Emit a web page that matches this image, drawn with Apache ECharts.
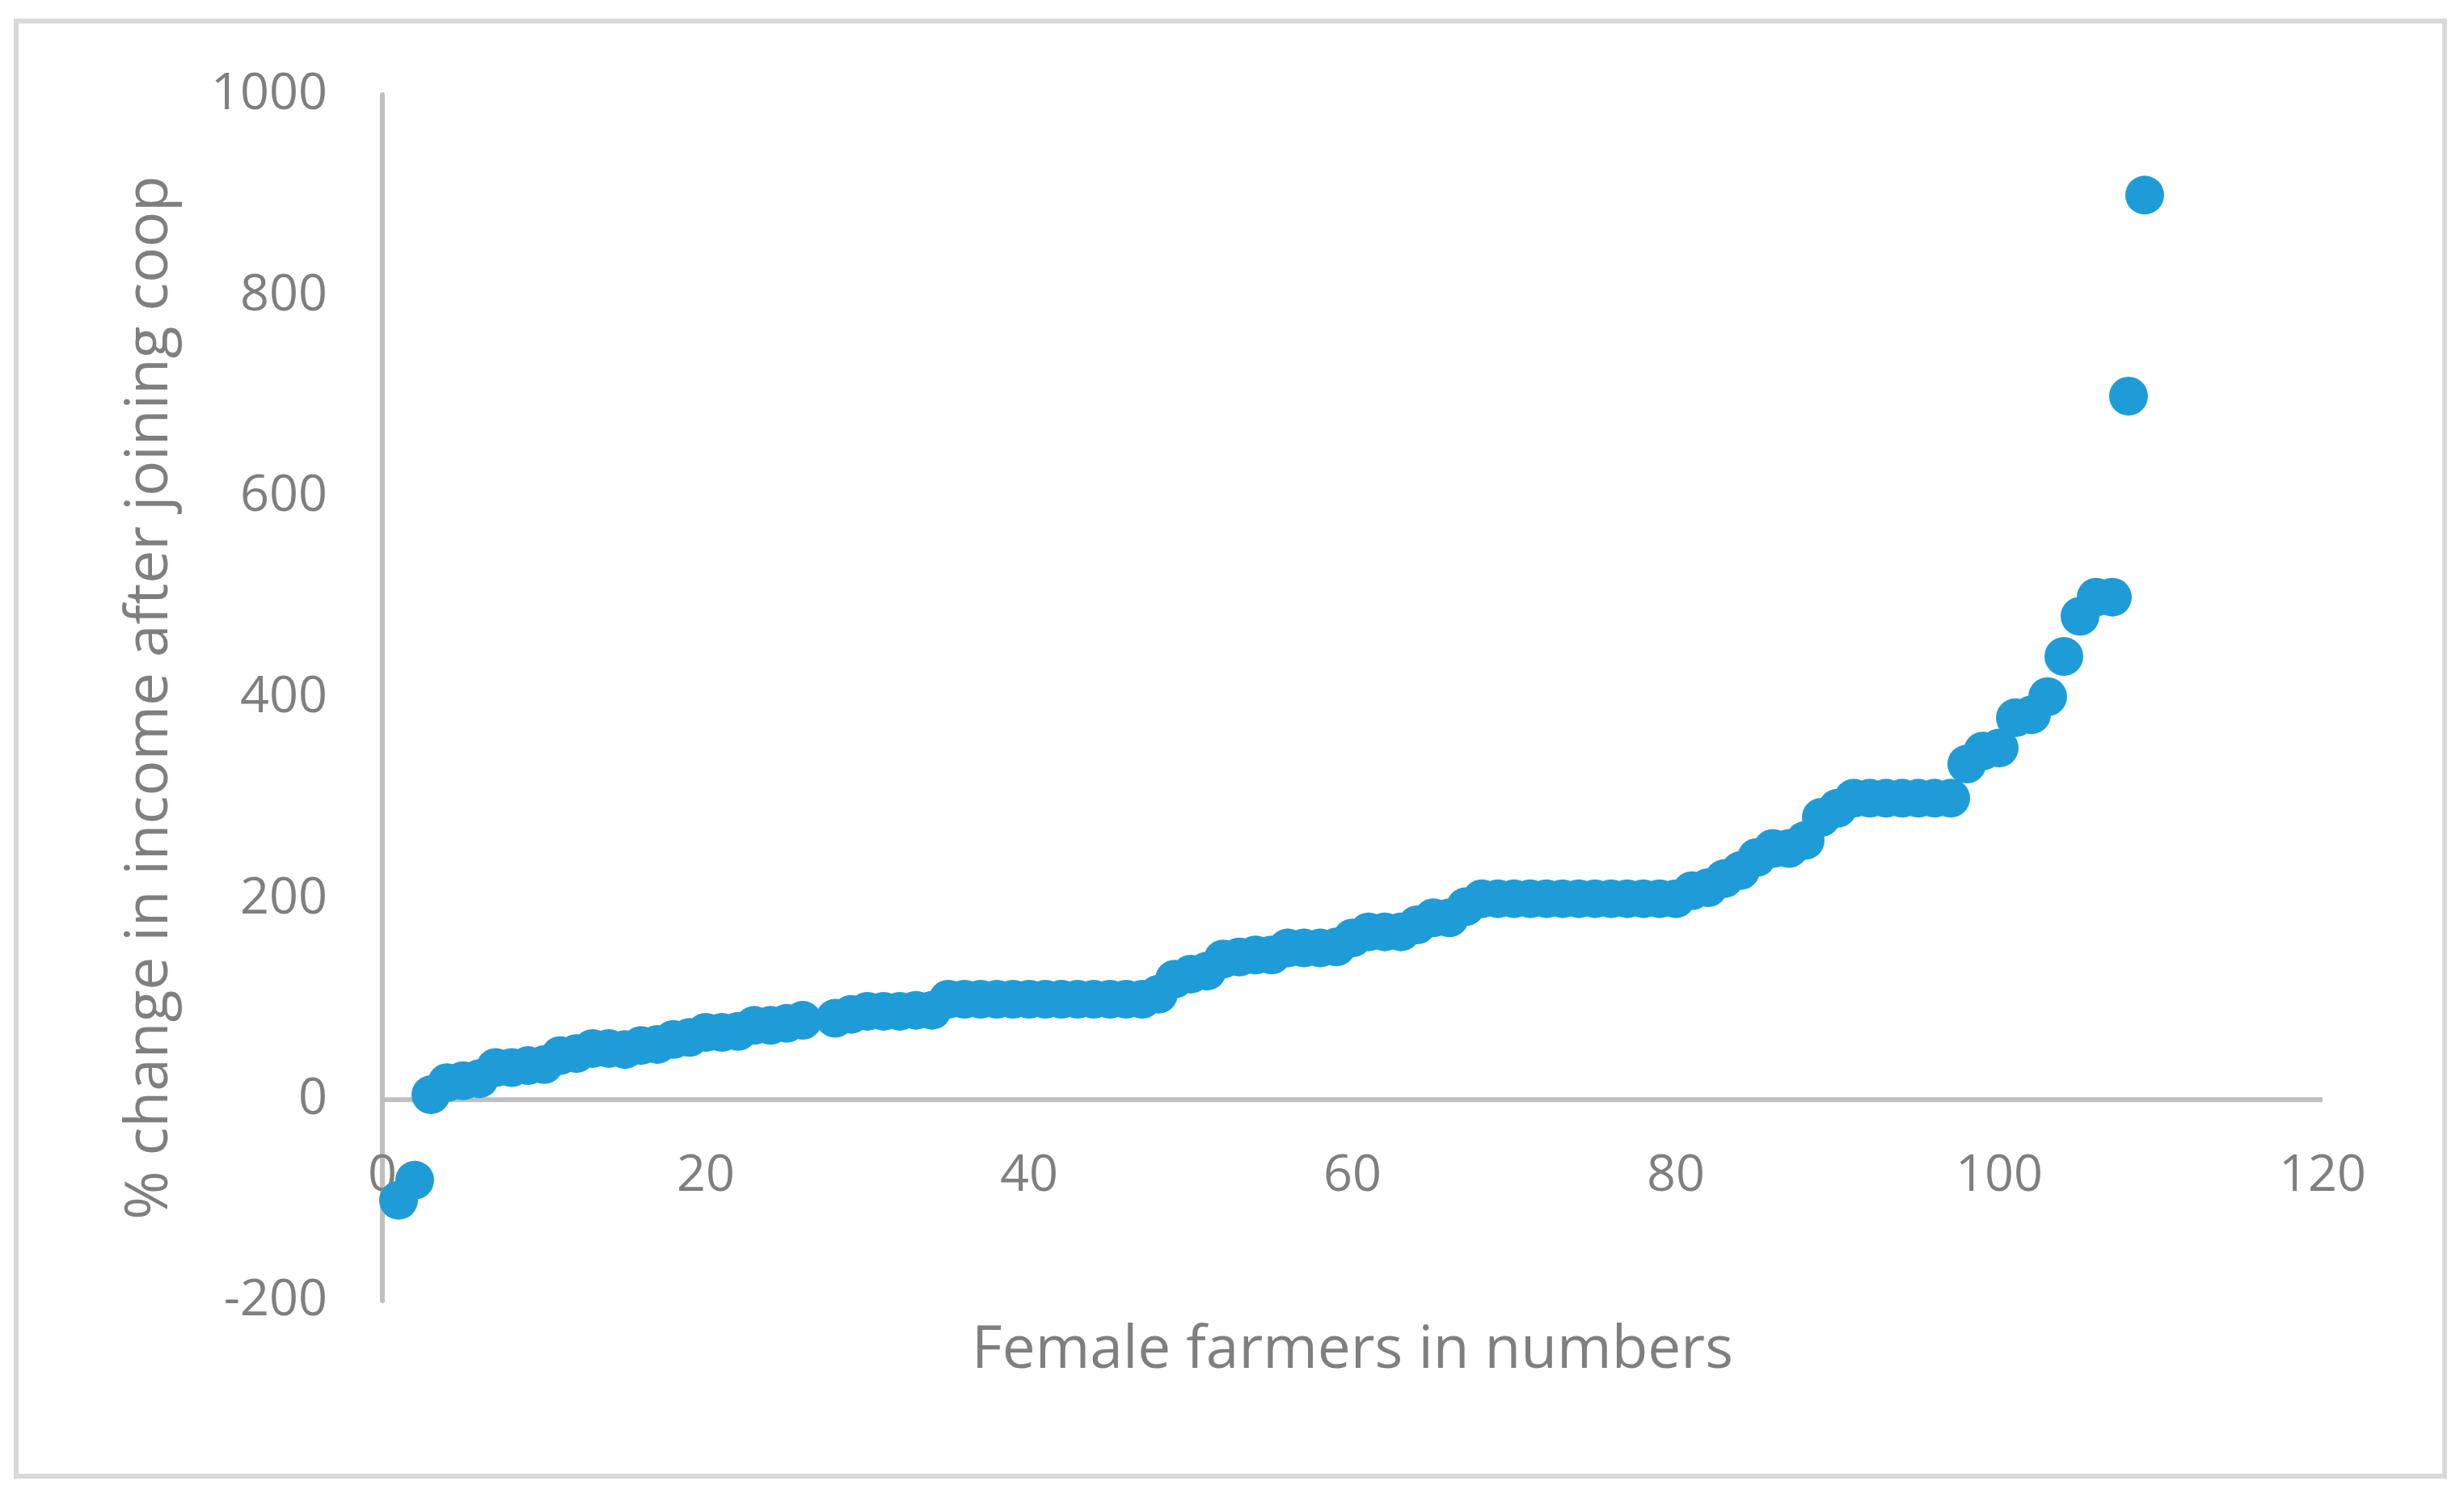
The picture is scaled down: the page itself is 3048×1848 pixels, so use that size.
<!DOCTYPE html>
<html>
<head>
<meta charset="utf-8">
<script src="https://cdn.jsdelivr.net/npm/echarts@6/dist/echarts.min.js"></script>
<style>
html,body{margin:0;padding:0;background:#fff;}
#chart{width:3048px;height:1848px;}
</style>
</head>
<body>
<div id="chart"></div>
<script>
// Farmer index (x) — point 27 is absent in the source chart
const farmerIndex = [
  1,2,3,4,5,6,7,8,9,10,
  11,12,13,14,15,16,17,18,19,20,
  21,22,23,24,25,26,28,29,30,
  31,32,33,34,35,36,37,38,39,40,
  41,42,43,44,45,46,47,48,49,50,
  51,52,53,54,55,56,57,58,59,60,
  61,62,63,64,65,66,67,68,69,70,
  71,72,73,74,75,76,77,78,79,80,
  81,82,83,84,85,86,87,88,89,90,
  91,92,93,94,95,96,97,98,99,100,
  101,102,103,104,105,106,107,108,109
];
// % change in income after joining coop
const pctChange = [
  -100,-80,5,17,19,21,32,32,34,35,
  44,46,51,51,50,54,55,60,62,67,
  67,68,74,74,76,79,81,85,88,
  88,88,89,89,100,100,100,100,100,100,
  100,100,100,100,100,100,100,105,120,125,
  128,140,142,144,144,151,151,151,152,161,
  167,167,167,174,181,181,192,200,200,200,
  200,200,200,200,200,200,200,200,200,200,
  208,211,220,228,241,250,250,258,281,290,
  300,300,300,300,300,300,300,334,347,350,
  380,383,401,441,481,500,500,700,900
];
const xTicks = {min: 0, max: 120, interval: 20};
const yTicks = {min: -200, max: 1000, interval: 200};
// horizontal axis crosses the vertical one at y = 0
const xAxisCross = [[xTicks.min, 0], [xTicks.max, 0]];

const points = farmerIndex.map((x, i) => [x, pctChange[i]]);

const textColor = '#7f7f7f';
const lineColor = '#bfbfbf';
const fontFamily = '"Open Sans", "Noto Sans", sans-serif';

const chart = echarts.init(document.getElementById('chart'), null, {renderer: 'canvas'});
chart.setOption({
  backgroundColor: '#ffffff',
  animation: false,
  graphic: [{
    type: 'rect',
    shape: {x: 20, y: 26, width: 3004, height: 1800},
    style: {fill: 'none', stroke: '#d9d9d9', lineWidth: 6},
    z: -1
  }],
  grid: {left: 473, right: 175, top: 117, bottom: 239, containLabel: false, outerBoundsMode: 'none'},
  xAxis: {
    type: 'value',
    min: xTicks.min, max: xTicks.max, interval: xTicks.interval,
    name: 'Female farmers in numbers',
    nameLocation: 'middle',
    nameGap: 26,
    nameTextStyle: {color: textColor, fontSize: 73, fontFamily: fontFamily},
    axisLine: {show: false, onZero: false},
    axisTick: {show: false},
    splitLine: {show: false},
    axisLabel: {color: textColor, fontSize: 63, fontFamily: fontFamily, inside: true, margin: 122,
                formatter: v => String(v)}
  },
  yAxis: {
    type: 'value',
    min: yTicks.min, max: yTicks.max, interval: yTicks.interval,
    name: '% change in income after joining coop',
    nameLocation: 'middle',
    nameGap: 250,
    nameTextStyle: {color: textColor, fontSize: 73, fontFamily: fontFamily},
    axisLine: {show: true, onZero: false, lineStyle: {color: lineColor, width: 6}},
    axisTick: {show: false},
    splitLine: {show: false},
    axisLabel: {color: textColor, fontSize: 63, fontFamily: fontFamily, margin: 68,
                formatter: v => String(v)}
  },
  series: [{
    type: 'line',
    data: xAxisCross,
    symbol: 'none',
    silent: true,
    lineStyle: {color: lineColor, width: 6},
    z: 1
  }, {
    type: 'scatter',
    data: points,
    symbol: 'circle',
    symbolSize: 48,
    itemStyle: {color: '#1e9cd7', opacity: 1},
    z: 3
  }]
});
</script>
</body>
</html>
